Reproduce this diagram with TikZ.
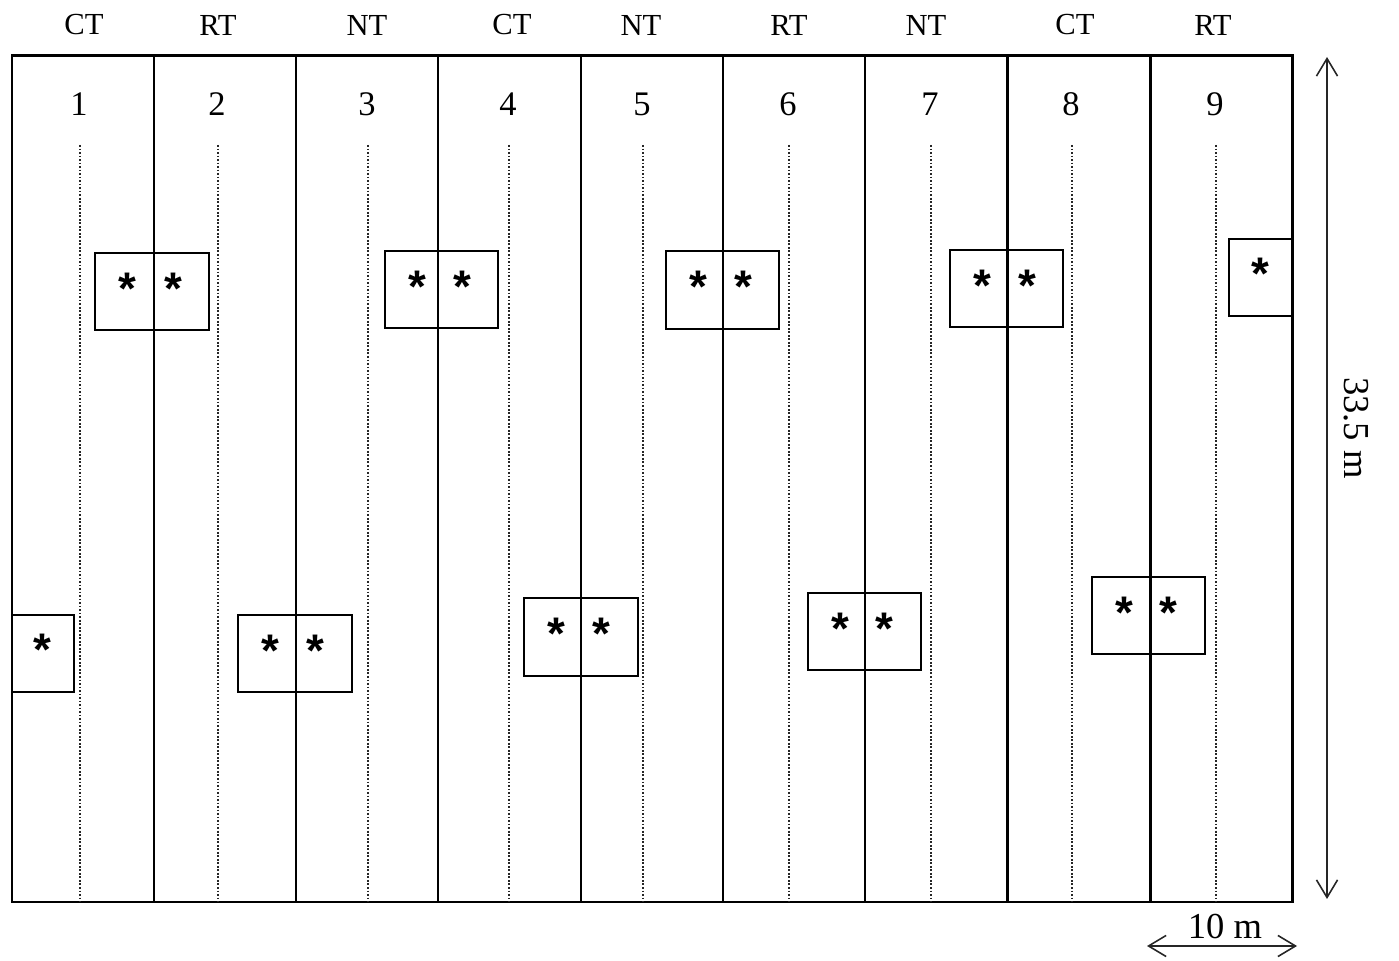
\documentclass[tikz,border=0pt]{standalone}
\usepackage{fontspec}
\setmainfont{Liberation Serif}
\newfontfamily\starfont{Liberation Sans}
\usetikzlibrary{arrows.meta}

\begin{document}
\begin{tikzpicture}[
    x=0.01cm, y=-0.01cm,
    field/.style ={draw=black, line width=0.85pt},
    strip/.style ={draw=black, line width=0.85pt},
    row/.style   ={draw=black!85, line width=0.5pt, dash pattern=on 0.5pt off 0.5pt},
    plot/.style  ={draw=black, line width=0.6pt},
    star/.style  ={font=\starfont\bfseries\fontsize{13}{13}\selectfont, inner sep=0pt},
    trt/.style   ={font=\fontsize{8.7}{10}\selectfont, inner sep=0pt},
    num/.style   ={font=\fontsize{9.8}{11}\selectfont, inner sep=0pt},
    dim/.style   ={draw=black!85, line width=0.45pt, {Straight Barb[length=5pt,width=6pt]}-{Straight Barb[length=5pt,width=6pt]}},
    lbl/.style   ={font=\fontsize{10.4}{12}\selectfont, inner sep=0pt}
  ]
  \useasboundingbox (0,0) rectangle (1399,961);

  %% ---- field and strips --------------------------------------------
  \draw[field] (12,56) rectangle (1292,902);
  \foreach \x in {154,296,438,581,723,865,1007,1150}
    \draw[strip] (\x,56) -- (\x,902);

  %% ---- treatments, strip numbers, sampling rows ---------------------
  \foreach \lx/\t/\nx/\n in {84/CT/79/1, 218/RT/217/2, 367/NT/367/3,
      512/CT/508/4, 641/NT/642/5, 789/RT/788/6, 926/NT/930/7,
      1075/CT/1071/8, 1213/RT/1215/9} {
    \node[trt] (t\n) at (\lx,25) {\t};
    \node[num] (n\n) at (\nx,104) {\n};
    \draw[row] (\nx+1,145) -- (\nx+1,902);
  }

  %% ---- sampling plots, upper row ------------------------------------
  \foreach \xa/\xb/\ya/\yb/\k in {95/209/253/330/a, 385/498/251/328/b,
      666/779/251/329/c, 950/1063/250/327/d} {
    \draw[plot] (\xa,\ya) rectangle (\xb,\yb);
    \node[star] (s\k1) at (\xa+32,{(\ya+\yb)/2-3}) {*};
    \node[star] (s\k2) at (\xb-36,{(\ya+\yb)/2-3}) {*};
  }
  \draw[plot] (1229,239) rectangle (1292,316);
  \node[star] (se1) at (1260,274) {*};

  %% ---- sampling plots, lower row ------------------------------------
  \draw[plot] (12,615) rectangle (74,692);
  \node[star] (sf1) at (42,650) {*};
  \foreach \xa/\xb/\ya/\yb/\k in {238/352/615/692/g, 524/638/598/676/h,
      808/921/593/670/i, 1092/1205/577/654/j} {
    \draw[plot] (\xa,\ya) rectangle (\xb,\yb);
    \node[star] (s\k1) at (\xa+32,{(\ya+\yb)/2-3}) {*};
    \node[star] (s\k2) at (\xb-37,{(\ya+\yb)/2-3}) {*};
  }

  %% ---- dimensions ---------------------------------------------------
  \coordinate (vtop) at (1327,57);
  \coordinate (vbot) at (1327,899);
  \draw[dim] (vtop) -- (vbot);
  \node[lbl, rotate=-90] (len) at (1356,428) {33.5 m};

  \coordinate (hl) at (1147,946);
  \coordinate (hr) at (1297,946);
  \draw[dim] (hl) -- (hr);
  \node[lbl] (wid) at (1225,927) {10 m};

\end{tikzpicture}
\end{document}
